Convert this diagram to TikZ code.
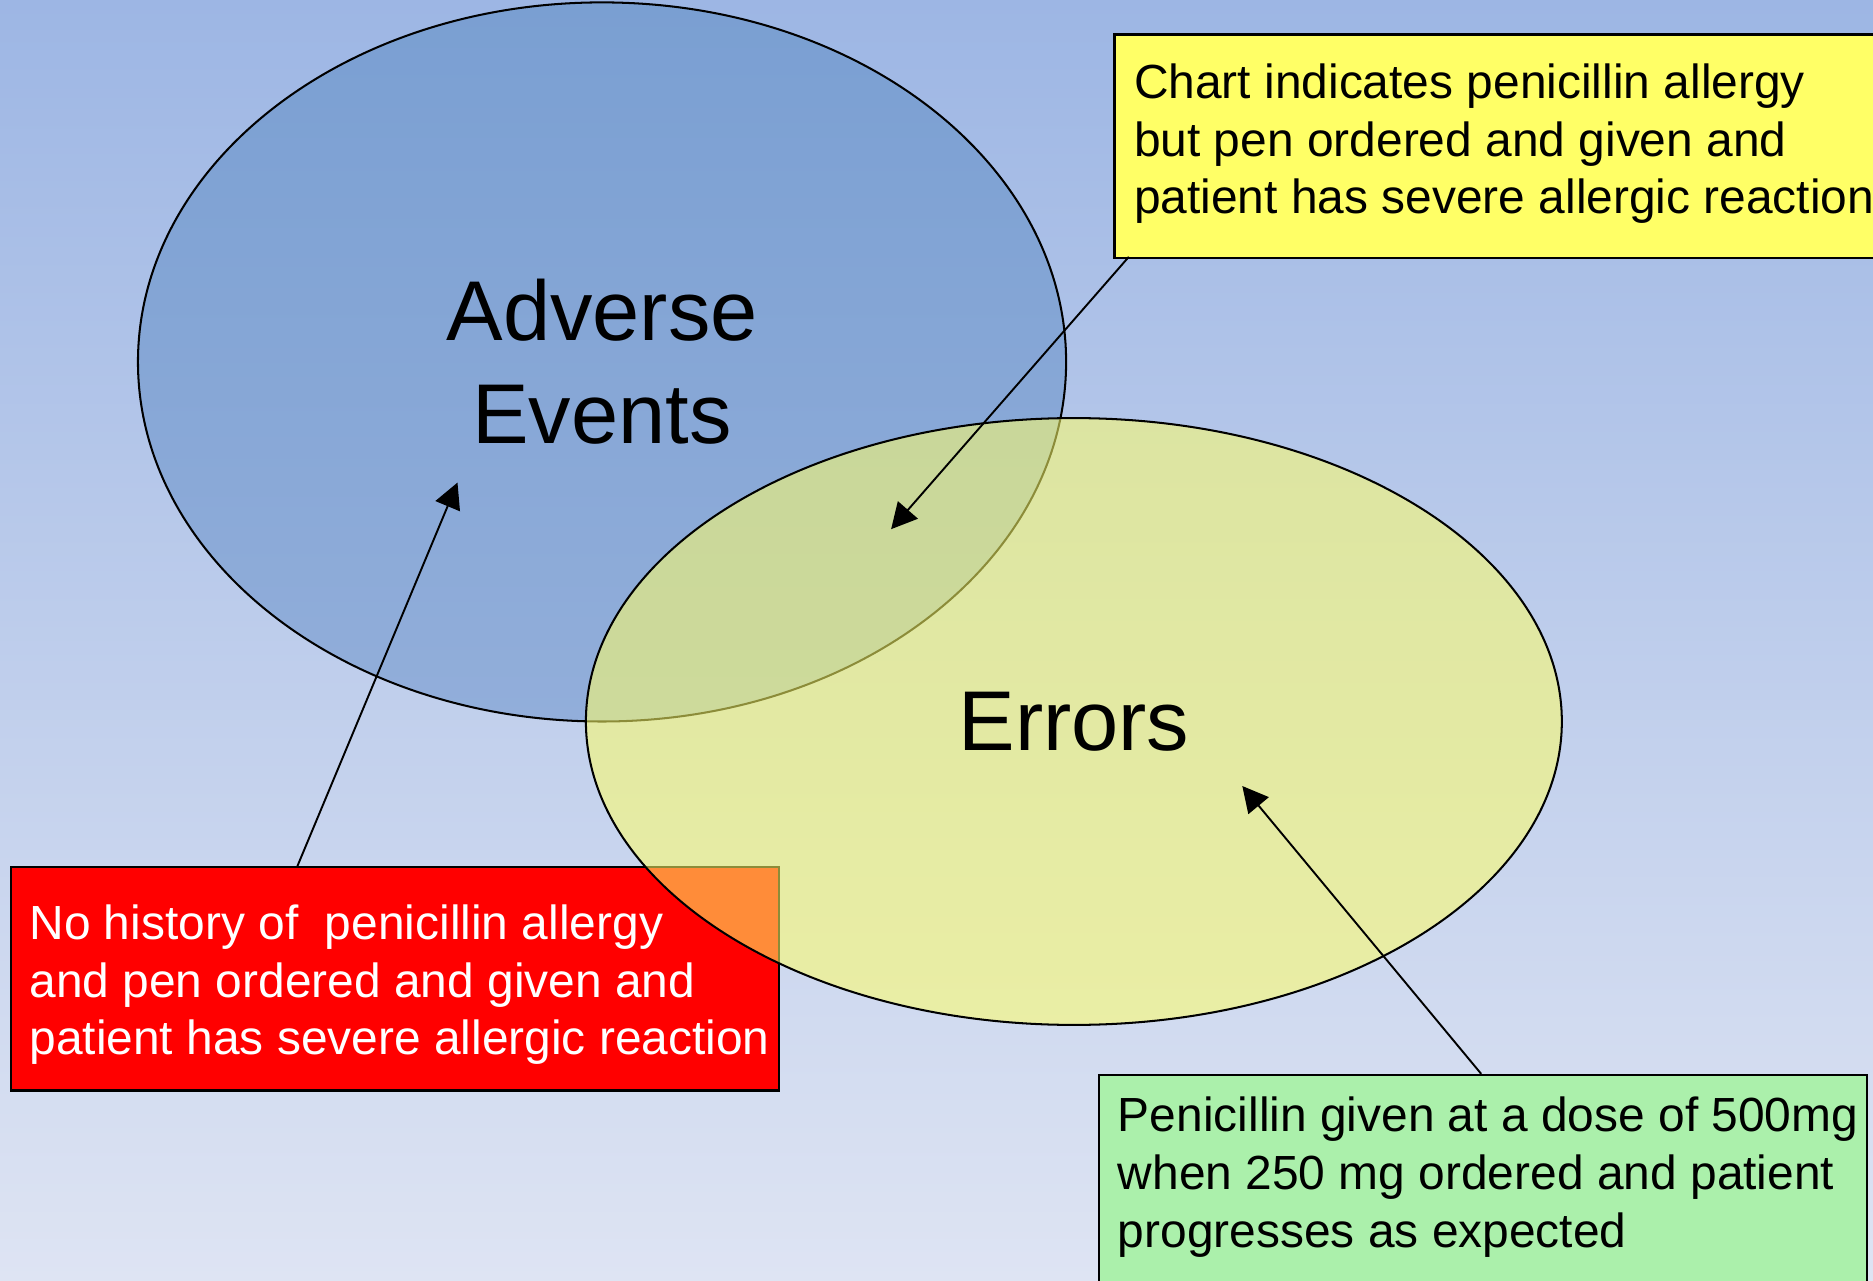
\documentclass[tikz,border=0pt]{standalone}
\usepackage{fontspec}
\setmainfont{Liberation Sans}
\usetikzlibrary{shapes.geometric,arrows.meta}
\definecolor{bgtop}{RGB}{157,182,228}
\definecolor{bgbot}{RGB}{222,228,243}
\definecolor{bluetop}{RGB}{122,159,210}
\definecolor{bluebot}{RGB}{146,174,218}
\definecolor{venyellow}{RGB}{255,255,104}
\definecolor{boxyellow}{RGB}{255,255,102}
\definecolor{boxgreen}{RGB}{171,240,171}
\definecolor{boxred}{RGB}{255,0,0}
\begin{document}
\begin{tikzpicture}[x=0.5pt,y=-0.5pt,
  boxtext/.style={anchor=north west, inner sep=0pt, align=left,
    font=\fontsize{20.05pt}{24.15pt}\selectfont},
  bigtext/.style={align=center, font=\fontsize{35.5pt}{43.25pt}\selectfont},
  callout/.style={draw=black, line width=1pt, anchor=north west, inner sep=0pt},
  venn/.style={ellipse, draw=black, line width=0.85pt, inner sep=0pt},
  conn/.style={line width=0.8pt, -{Triangle[length=10.7pt,width=11pt]}}]
\useasboundingbox (0,0) rectangle (1568,1072);
\clip (0,0) rectangle (1568,1072);
\shade[top color=bgtop, bottom color=bgbot] (0,0) rectangle (1568,1072);
% Adverse events ellipse
\node[venn, minimum width=388.5pt, minimum height=301pt,
      top color=bluetop, bottom color=bluebot, bigtext] (ae) at (504,303) {Adverse\\Events};
% red box
\node[callout, fill=boxred, minimum width=321.5pt, minimum height=93.5pt] (rb) at (8,725) {};
\node[boxtext, text=white] (rt) at (24.3,752.2)
  {\strut No history of\ \ penicillin allergy\\and pen ordered and given and\\patient has severe allergic reaction};
% errors ellipse
\node[venn, minimum width=408.5pt, minimum height=254pt,
      fill=venyellow, fill opacity=0.55, text opacity=1, bigtext] (er) at (899,604) {Errors};
% yellow box
\node[callout, fill=boxyellow, minimum width=340pt, minimum height=93.5pt] (yb) at (932,28) {};
\node[boxtext] (yt) at (949,48.2)
  {\strut Chart indicates penicillin allergy\\but pen ordered and given and\\patient has severe allergic reaction};
% green box
\node[callout, fill=boxgreen, minimum width=321.5pt, minimum height=106pt] (gb) at (919,899) {};
\node[boxtext] (gt) at (935.5,913.2)
  {\strut Penicillin given at a dose of 500mg\\when 250 mg ordered and patient\\progresses as expected};
% connectors
\coordinate (t1) at (249,725);
\coordinate (h1) at (383,404);
\coordinate (t2) at (945,215);
\coordinate (h2) at (746,443);
\coordinate (t3) at (1240,899);
\coordinate (h3) at (1040,658);
\draw[conn] (t1) -- (h1);
\draw[conn] (t2) -- (h2);
\draw[conn] (t3) -- (h3);
\end{tikzpicture}
\end{document}
